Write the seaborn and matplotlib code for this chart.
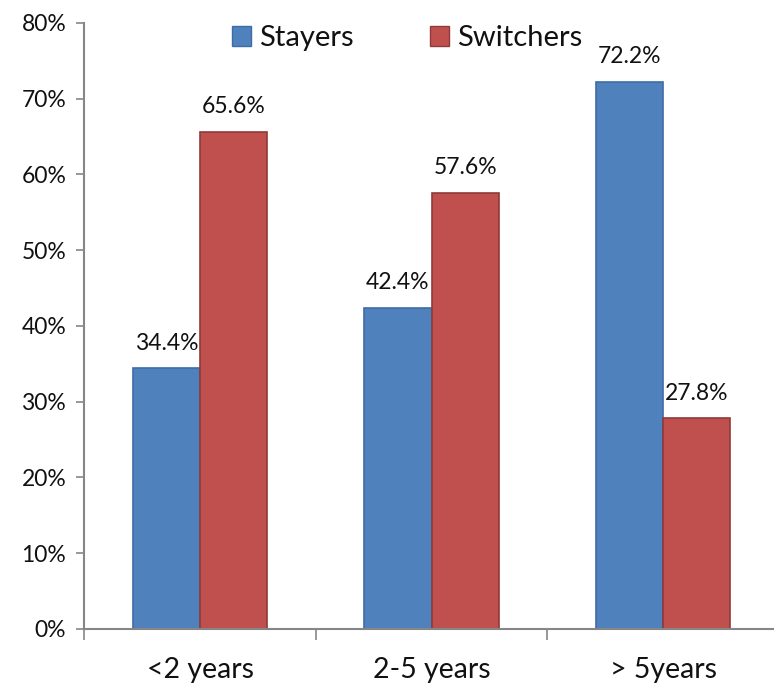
import matplotlib
matplotlib.use("Agg")
import matplotlib.pyplot as plt
import seaborn as sns
import pandas as pd
from matplotlib.ticker import FixedLocator, PercentFormatter

categories = ["<2 years", "2-5 years", "> 5years"]
stayers = [34.4, 42.4, 72.2]
switchers = [65.6, 57.6, 27.8]
series_names = ["Stayers", "Switchers"]
y_ticks = [0, 10, 20, 30, 40, 50, 60, 70, 80]

df = pd.DataFrame({
    "period": categories * 2,
    "group": [series_names[0]] * 3 + [series_names[1]] * 3,
    "share": stayers + switchers,
})

sns.set_theme(style="white")
plt.rcParams["font.family"] = ["Lato", "DejaVu Sans"]

fig = plt.figure(figsize=(7.74, 6.86), dpi=100)
# the plotting area runs slightly past the right edge of the canvas
ax = fig.add_axes([0.1089, 0.0831, 0.8973, 0.8834])

fills = ["#4F81BD", "#C0504D"]
edges = ["#3D6CA6", "#8E3B39"]

sns.barplot(data=df, x="period", y="share", hue="group", order=categories,
            hue_order=series_names, palette=fills, width=0.58, gap=0,
            saturation=1, ax=ax, legend=True)

for cont, ec in zip(ax.containers, edges):
    for p in cont:
        p.set_edgecolor(ec)
        p.set_linewidth(1.2)
    ax.bar_label(cont, fmt="%.1f%%", padding=10.5, fontsize=16.5,
                 color="#111111")

ax.set_ylim(0, 80)
ax.set_xlim(-0.5, 2.5)
ax.set_yticks(y_ticks)
ax.yaxis.set_major_formatter(PercentFormatter(decimals=0))
ax.tick_params(axis="y", labelsize=16.5, length=6, width=1.2, color="#868686",
               left=True, pad=7, labelcolor="#111111")
ax.tick_params(axis="x", which="major", length=0, labelsize=20.5, pad=20,
               labelcolor="#111111")
ax.xaxis.set_minor_locator(FixedLocator([-0.5, 0.5, 1.5, 2.5]))
ax.tick_params(axis="x", which="minor", length=8, width=1.2, color="#868686",
               bottom=True)
ax.set_xlabel("")
ax.set_ylabel("")

for side in ["top", "right"]:
    ax.spines[side].set_visible(False)
for side in ["left", "bottom"]:
    ax.spines[side].set_color("#868686")
    ax.spines[side].set_linewidth(1.5)

handles, labels = ax.get_legend_handles_labels()
for h, ec in zip(handles, edges):
    h.set_edgecolor(ec)
leg = ax.legend(handles, labels, loc="center", bbox_to_anchor=(0.465, 0.975),
                ncol=2, frameon=False, fontsize=21, handlelength=0.65,
                handleheight=0.65, handletextpad=0.28, columnspacing=2.6,
                borderaxespad=0)
for t in leg.get_texts():
    t.set_color("#111111")

fig.savefig("out.png", dpi=100)
